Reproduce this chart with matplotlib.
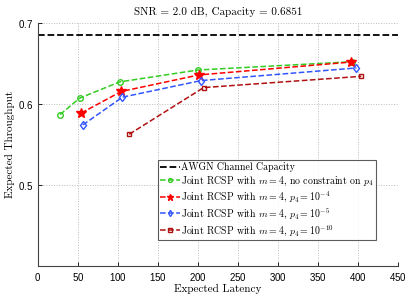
import matplotlib
matplotlib.use('Agg')
import matplotlib.pyplot as plt

plt.rcParams['mathtext.fontset'] = 'cm'
plt.rcParams['axes.formatter.use_mathtext'] = True

capacity = 0.6851

lat_free = [27.5, 52, 102, 200, 393]
thr_free = [0.5867, 0.607, 0.627, 0.6417, 0.6519]

lat_m4 = [54, 104, 201, 391.5]
thr_m4 = [0.5886, 0.6152, 0.6356, 0.6515]

lat_m5 = [56, 105.5, 204, 398]
thr_m5 = [0.574, 0.6082, 0.6287, 0.6442]

lat_m10 = [114, 207, 404]
thr_m10 = [0.5625, 0.620, 0.6339]

xticks = [0, 50, 100, 150, 200, 250, 300, 350, 400, 450]
yticks = [0.5, 0.6, 0.7]

fig = plt.figure(figsize=(4.15, 3.01), dpi=100)
ax = fig.add_axes([0.0916, 0.116, 0.8675, 0.8086])

ax.axhline(capacity, color='black', ls='--', lw=1.3, label='AWGN Channel Capacity')
ax.plot(lat_free, thr_free, ls='--', color='#33cc22', marker='o', ms=4, mfc='none', mew=1.0, lw=1.1,
        label='Joint RCSP with $m=4$, no constraint on $p_4$')
ax.plot(lat_m4, thr_m4, ls='--', color='red', marker='*', ms=7, lw=1.1,
        label='Joint RCSP with $m=4$, $p_4=10^{-4}$')
ax.plot(lat_m5, thr_m5, ls='--', color='#3355ff', marker='d', ms=4.5, mfc='none', mew=1.0, lw=1.1,
        label='Joint RCSP with $m=4$, $p_4=10^{-5}$')
ax.plot(lat_m10, thr_m10, ls='--', color='#b01010', marker='s', ms=3.5, mfc='none', mew=1.0, lw=1.1,
        label='Joint RCSP with $m=4$, $p_4=10^{-10}$')

ax.set_xlim(0, 450)
ax.set_ylim(0.4, 0.7)
ax.set_xticks(xticks)
ax.set_yticks(yticks)
ax.tick_params(labelsize=7, direction='in', length=3, width=0.6)
for lab in ax.get_xticklabels() + ax.get_yticklabels():
    lab.set_family('Liberation Sans')
ax.grid(True, ls=':', color='#bbbbbb', lw=0.7)
ax.spines['top'].set_visible(False)
ax.spines['right'].set_visible(False)
ax.spines['left'].set_color('#444444')
ax.spines['bottom'].set_color('#444444')

ax.set_xlabel('Expected Latency', family='cmr10', fontsize=8, labelpad=1)
ax.set_ylabel('Expected Throughput', family='cmr10', fontsize=8, labelpad=2)
ax.set_title('SNR = 2.0 dB, Capacity = 0.6851', family='cmr10', fontsize=8, pad=6)

leg = ax.legend(loc='upper left', bbox_to_anchor=(158 / 415, 1 - 160 / 301), bbox_transform=fig.transFigure,
                prop={'family': 'cmr10', 'size': 7.1}, fancybox=False, edgecolor='#333333',
                handlelength=2.0, handletextpad=0.1, labelspacing=0.2, borderpad=0.25, borderaxespad=0,
                markerscale=0.7)
leg.get_frame().set_linewidth(0.8)

plt.savefig('out.png', dpi=100)
